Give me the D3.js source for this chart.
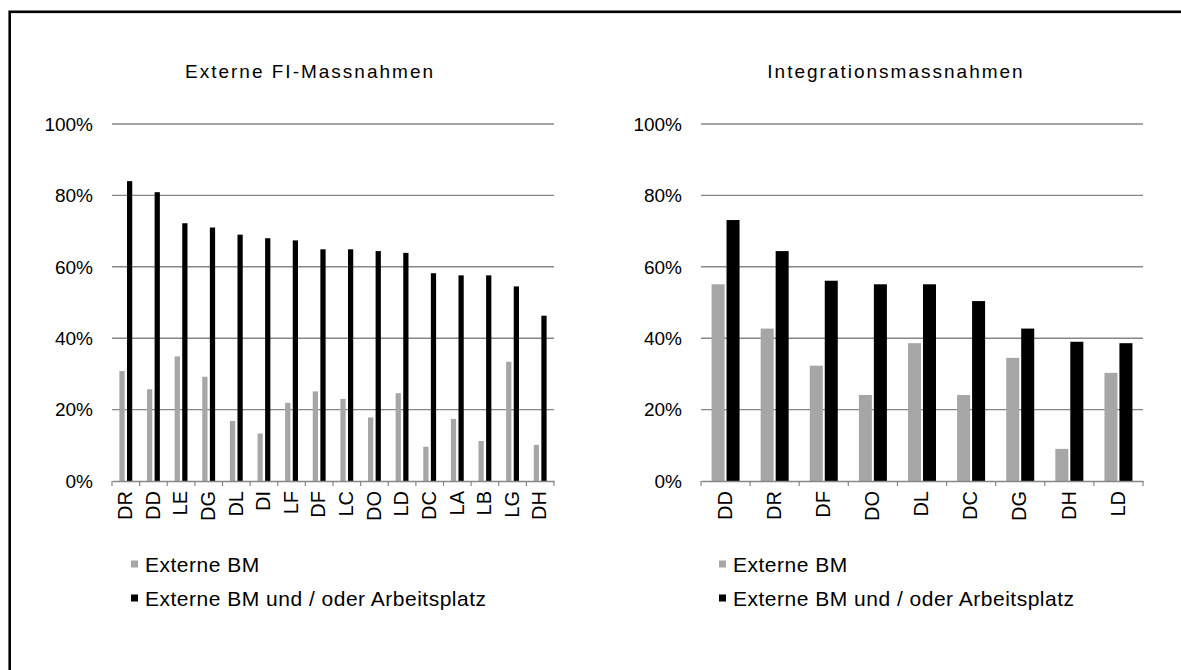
<!DOCTYPE html>
<html>
<head>
<meta charset="utf-8">
<script src="https://cdn.jsdelivr.net/npm/d3@7"></script>
<style>
  body { margin: 0; background: #fff; }
  svg { display: block; font-family: "Liberation Sans", Arial, sans-serif; }
</style>
</head>
<body>
<div id="chart"></div>
<script>
// --- data ---
var seriesNames = ["Externe BM", "Externe BM und / oder Arbeitsplatz"];

var fiCategories = ["DR", "DD", "LE", "DG", "DL", "DI", "LF", "DF", "LC", "DO", "LD", "DC", "LA", "LB", "LG", "DH"];
var fiExterneBM = [30.8, 25.7, 34.9, 29.2, 16.8, 13.3, 21.9, 25.1, 23.0, 17.8, 24.6, 9.6, 17.4, 11.2, 33.4, 10.1];
var fiExterneBMOderAP = [84.0, 80.9, 72.2, 71.0, 69.0, 68.0, 67.4, 64.9, 64.9, 64.4, 63.9, 58.2, 57.6, 57.6, 54.5, 46.3];

var intCategories = ["DD", "DR", "DF", "DO", "DL", "DC", "DG", "DH", "LD"];
var intExterneBM = [55.1, 42.7, 32.3, 24.1, 38.6, 24.1, 34.5, 9.0, 30.3];
var intExterneBMOderAP = [73.1, 64.4, 56.1, 55.1, 55.1, 50.4, 42.7, 39.0, 38.6];

var yTicks = [0, 20, 40, 60, 80, 100];

var colors = ["#a6a6a6", "#000000"];

var W = 1181, H = 670;

var svg = d3.select("#chart").append("svg")
    .attr("width", W)
    .attr("height", H);

// outer frame (runs off the right and bottom edge)
svg.append("rect")
    .attr("x", 9.7)
    .attr("y", 11.8)
    .attr("width", 1300)
    .attr("height", 800)
    .attr("fill", "none")
    .attr("stroke", "#000")
    .attr("stroke-width", 2.6);

function drawPanel(opts) {
    var g = svg.append("g");

    var x = d3.scaleBand()
        .domain(opts.categories)
        .range([opts.left, opts.right])
        .paddingInner(0)
        .paddingOuter(0);

    var y = d3.scaleLinear()
        .domain([0, 100])
        .range([481, 124]);

    // title (Excel spreads the letters a little)
    g.append("text")
        .attr("x", opts.titleX)
        .attr("y", 78)
        .attr("text-anchor", "middle")
        .style("font-size", "19px")
        .style("letter-spacing", "2px")
        .attr("fill", "#000")
        .text(opts.title);

    // gridlines
    g.append("g")
        .selectAll("line")
        .data(yTicks.filter(function (d) { return d > 0; }))
        .enter().append("line")
        .attr("x1", opts.left)
        .attr("x2", opts.right)
        .attr("y1", function (d) { return y(d); })
        .attr("y2", function (d) { return y(d); })
        .attr("stroke", "#878787")
        .attr("stroke-width", 1.4);

    // y labels
    g.append("g")
        .selectAll("text")
        .data(yTicks)
        .enter().append("text")
        .attr("x", opts.left - 19)
        .attr("y", function (d) { return y(d); })
        .attr("dy", "0.36em")
        .attr("text-anchor", "end")
        .style("font-size", "19px")
        .attr("fill", "#000")
        .text(function (d) { return d + "%"; });

    // bars
    var bw = x.bandwidth();
    var barW = bw * opts.barFrac;
    var gap = bw * opts.gapFrac;
    var rows = opts.categories.map(function (c, i) {
        return { cat: c, values: [opts.s1[i], opts.s2[i]] };
    });

    var grp = g.append("g").selectAll("g")
        .data(rows)
        .enter().append("g")
        .attr("transform", function (d) { return "translate(" + (x(d.cat) + bw / 2) + ",0)"; });

    grp.selectAll("rect")
        .data(function (d) { return d.values; })
        .enter().append("rect")
        .attr("x", function (d, i) { return i === 0 ? -gap / 2 - barW : gap / 2; })
        .attr("width", barW)
        .attr("y", function (d) { return y(d); })
        .attr("height", function (d) { return y(0) - y(d); })
        .attr("fill", function (d, i) { return colors[i]; });

    // x axis
    var xAxis = g.append("g")
        .attr("transform", "translate(0," + y(0) + ")")
        .call(d3.axisBottom(x).tickSize(0).tickFormat(""));
    xAxis.select(".domain")
        .attr("stroke", "#878787")
        .attr("stroke-width", 1.4);

    // ticks at band edges
    var edges = opts.categories.map(function (c) { return x(c); }).concat([opts.right]);
    g.append("g").selectAll("line")
        .data(edges)
        .enter().append("line")
        .attr("x1", function (d) { return d; })
        .attr("x2", function (d) { return d; })
        .attr("y1", y(0))
        .attr("y2", y(0) + 5)
        .attr("stroke", "#878787")
        .attr("stroke-width", 1.2);

    // category labels
    g.append("g").selectAll("text")
        .data(opts.categories)
        .enter().append("text")
        .attr("transform", function (d) {
            return "translate(" + (x(d) + bw / 2 - 1) + "," + (y(0) + 10) + ") rotate(-90)";
        })
        .attr("dy", "0.36em")
        .attr("text-anchor", "end")
        .style("font-size", "20px")
        .attr("fill", "#000")
        .text(function (d) { return d; });

    // legend
    var leg = g.append("g").selectAll("g")
        .data(seriesNames)
        .enter().append("g")
        .attr("transform", function (d, i) { return "translate(" + opts.legendX + "," + (564 + i * 34) + ")"; });
    leg.append("rect")
        .attr("x", 0)
        .attr("y", -3.5)
        .attr("width", 7)
        .attr("height", 7)
        .attr("fill", function (d, i) { return colors[i]; });
    leg.append("text")
        .attr("x", 14)
        .attr("y", 0)
        .attr("dy", "0.36em")
        .style("font-size", "21px")
        .style("letter-spacing", "0.5px")
        .attr("fill", "#000")
        .text(function (d) { return d; });
}

drawPanel({
    title: "Externe FI-Massnahmen",
    titleX: 310,
    categories: fiCategories,
    s1: fiExterneBM,
    s2: fiExterneBMOderAP,
    left: 112,
    right: 554,
    barFrac: 0.19,
    gapFrac: 0.085,
    legendX: 131
});

drawPanel({
    title: "Integrationsmassnahmen",
    titleX: 896,
    categories: intCategories,
    s1: intExterneBM,
    s2: intExterneBMOderAP,
    left: 701,
    right: 1143,
    barFrac: 0.265,
    gapFrac: 0.04,
    legendX: 719
});
</script>
</body>
</html>
